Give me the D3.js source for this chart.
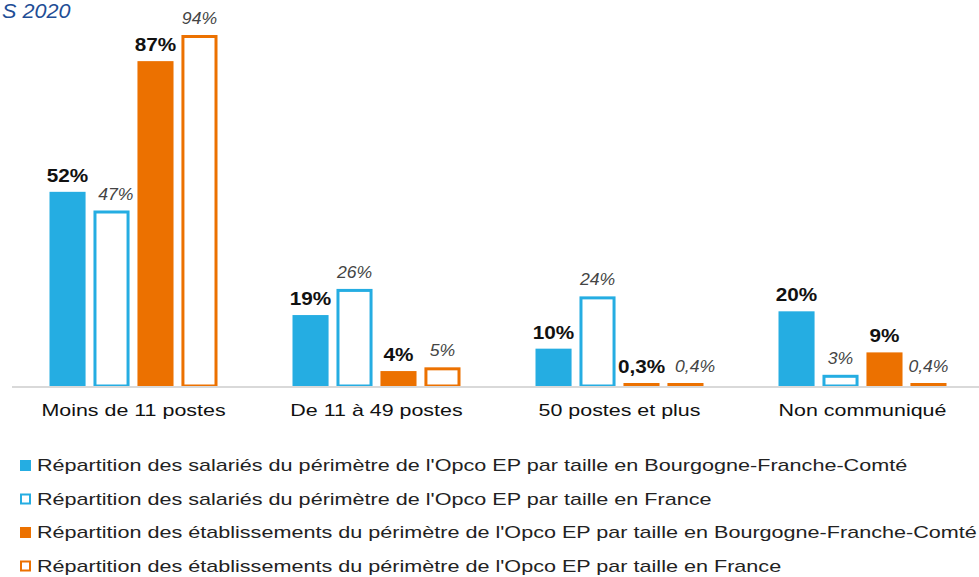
<!DOCTYPE html>
<html>
<head>
<meta charset="utf-8">
<script src="https://cdn.jsdelivr.net/npm/d3@7"></script>
<style>
  body { margin: 0; background: #fff; }
  text { font-family: "Liberation Sans", Arial, sans-serif; }
</style>
</head>
<body>
<svg id="chart"></svg>
<script>
// data
const categories = ["Moins de 11 postes", "De 11 à 49 postes", "50 postes et plus", "Non communiqué"]
const seriesNames = [
  "Répartition des salariés du périmètre de l'Opco EP par taille en Bourgogne-Franche-Comté",
  "Répartition des salariés du périmètre de l'Opco EP par taille en France",
  "Répartition des établissements du périmètre de l'Opco EP par taille en Bourgogne-Franche-Comté",
  "Répartition des établissements du périmètre de l'Opco EP par taille en France"
]
const salariesBFC = [52, 19, 10, 20]
const salariesFrance = [47, 26, 24, 3]
const etabBFC = [87, 4, 0.3, 9]
const etabFrance = [94, 5, 0.4, 0.4]

const width = 979
const height = 577
const baseline = 386

const series = [
  { name: seriesNames[0], values: salariesBFC, color: "#25ade2", filled: true },
  { name: seriesNames[1], values: salariesFrance, color: "#25ade2", filled: false },
  { name: seriesNames[2], values: etabBFC, color: "#ec7100", filled: true },
  { name: seriesNames[3], values: etabFrance, color: "#ec7100", filled: false }
]

const fmt = v => (Number.isInteger(v) ? v : String(v).replace(".", ",")) + "%"

// the original font is a bit wider than Liberation Sans
function stretch(sel, k) {
    sel.each(function() {
        const w = this.getComputedTextLength()
        d3.select(this)
            .attr("textLength", w * k)
            .attr("lengthAdjust", "spacingAndGlyphs")
    })
}

const svg = d3.select("#chart")
    .attr("width", width)
    .attr("height", height)

// title (cut off in the original)
svg.append("text")
    .attr("x", 2)
    .attr("y", 18)
    .attr("font-size", 20)
    .attr("font-style", "italic")
    .attr("fill", "#1f4e96")
    .text("S 2020")
    .call(stretch, 1.08)

const x = d3.scaleBand()
    .domain(categories)
    .range([12, 984])

const xInner = d3.scaleBand()
    .domain(d3.range(series.length))
    .range([-84, 84])
    .paddingInner(0.18)
    .paddingOuter(0)

const y = d3.scaleLinear()
    .domain([0, 94])
    .range([baseline, 35])

const groups = svg.selectAll(".group")
    .data(categories)
    .enter().append("g")
    .attr("class", "group")
    .attr("transform", d => `translate(${x(d) + x.bandwidth() / 2},0)`)

series.forEach((s, si) => {
    groups.append("rect")
        .attr("x", (d, i) => xInner(si) + (s.filled ? 0 : 1.5))
        .attr("width", xInner.bandwidth() - (s.filled ? 0 : 3))
        .attr("y", (d, i) => {
            const h = Math.max(baseline - y(s.values[i]), 3)
            return baseline - h + (s.filled ? 0 : 1.5)
        })
        .attr("height", (d, i) => {
            const h = Math.max(baseline - y(s.values[i]), 3)
            return s.filled ? h : Math.max(h - 1.5, 1.5)
        })
        .attr("fill", s.filled ? s.color : "#fff")
        .attr("stroke", s.filled ? "none" : s.color)
        .attr("stroke-width", 3)

    groups.append("text")
        .attr("class", "val s" + si)
        .attr("x", xInner(si) + xInner.bandwidth() / 2)
        .attr("y", (d, i) => Math.min(y(s.values[i]), baseline - 3) - (s.filled ? 10 : 11))
        .attr("text-anchor", "middle")
        .attr("font-size", s.filled ? 18 : 16)
        .attr("font-weight", s.filled ? "bold" : "normal")
        .attr("font-style", s.filled ? "normal" : "italic")
        .attr("fill", s.filled ? "#111" : "#444")
        .text((d, i) => fmt(s.values[i]))
        .call(stretch, s.filled ? 1.15 : 1.1)
})

// push a label right when it runs into its left neighbour
groups.each(function() {
    const labels = d3.select(this).selectAll(".val").nodes()
    for (let k = 1; k < labels.length; k++) {
        const a = labels[k - 1].getBBox()
        const b = labels[k].getBBox()
        const vOverlap = a.y < b.y + b.height && b.y < a.y + a.height
        const gap = b.x - (a.x + a.width)
        if (vOverlap && gap < 10) {
            d3.select(labels[k]).attr("x", +d3.select(labels[k]).attr("x") + (10 - gap))
        }
    }
})

// axis line
svg.append("line")
    .attr("x1", 12).attr("x2", width)
    .attr("y1", baseline + 1).attr("y2", baseline + 1)
    .attr("stroke", "#d9d9d9")
    .attr("stroke-width", 2)

groups.append("text")
    .attr("y", 416)
    .attr("text-anchor", "middle")
    .attr("font-size", 17)
    .attr("fill", "#111")
    .text(d => d)
    .call(stretch, 1.26)

// legend
const legend = svg.selectAll(".legend")
    .data(series)
    .enter().append("g")
    .attr("class", "legend")
    .attr("transform", (d, i) => `translate(20,${460 + i * 33.5})`)

legend.append("rect")
    .attr("x", d => d.filled ? 0 : 1)
    .attr("y", d => d.filled ? 0 : 1)
    .attr("width", d => d.filled ? 11 : 9)
    .attr("height", d => d.filled ? 11 : 9)
    .attr("fill", d => d.filled ? d.color : "#fff")
    .attr("stroke", d => d.filled ? "none" : d.color)
    .attr("stroke-width", 2)

legend.append("text")
    .attr("x", 17)
    .attr("y", 11)
    .attr("font-size", 17)
    .attr("fill", "#222")
    .text(d => d.name)
    .call(stretch, 1.27)
</script>
</body>
</html>
